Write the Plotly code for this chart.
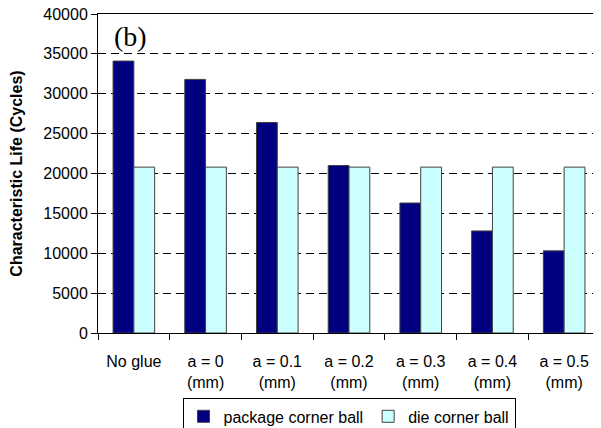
import plotly.graph_objects as go

categories = ["No glue", "a = 0<br>(mm)", "a = 0.1<br>(mm)", "a = 0.2<br>(mm)",
              "a = 0.3<br>(mm)", "a = 0.4<br>(mm)", "a = 0.5<br>(mm)"]
package_corner = [34100, 31800, 26400, 21000, 16300, 12800, 10300]
die_corner = [20800, 20800, 20800, 20800, 20800, 20800, 20800]
y_ticks = [0, 5000, 10000, 15000, 20000, 25000, 30000, 35000, 40000]

fig = go.Figure()
fig.add_trace(go.Bar(x=categories, y=package_corner, name="package corner ball",
                     marker=dict(color="#000080", line=dict(color="#404040", width=1))))
fig.add_trace(go.Bar(x=categories, y=die_corner, name="die corner ball",
                     marker=dict(color="#CCFFFF", line=dict(color="#404040", width=1))))

font = "Arial, Liberation Sans, sans-serif"
fig.update_layout(
    width=601, height=440,
    margin=dict(l=90, r=9, t=6, b=115),
    paper_bgcolor="white", plot_bgcolor="white",
    barmode="group", bargap=0.42, bargroupgap=0,
    font=dict(family=font, size=16, color="black"),
    showlegend=True,
    legend=dict(orientation="h", x=0.5, xanchor="center", y=-0.205, yanchor="top",
                bordercolor="black", borderwidth=1, font=dict(size=16),
                itemwidth=30, tracegroupgap=0),
    annotations=[dict(text="(b)", x=0.065, y=0.985, xref="paper", yref="paper",
                      xanchor="center", yanchor="top", showarrow=False,
                      font=dict(family="Liberation Serif, Times New Roman, serif", size=28))],
)
fig.update_xaxes(showline=True, linecolor="black", linewidth=1, mirror=True,
                 ticks="outside", tickson="boundaries", ticklen=6, tickcolor="black",
                 showgrid=False, ticklabelstandoff=14, automargin=False,
                 ticklabeloverflow="allow")
fig.update_yaxes(range=[0, 40000], tickvals=y_ticks, ticktext=[str(v) for v in y_ticks],
                 showline=True, linecolor="black",
                 linewidth=1, ticks="outside", ticklen=6, tickcolor="black",
                 showgrid=True, gridcolor="black", gridwidth=1, griddash="8px,5px",
                 zeroline=False, automargin=False, ticklabeloverflow="allow",
                 title=dict(text="<b>Characteristic Life (Cycles)</b>", standoff=25,
                            font=dict(size=16)))
fig.write_html("out.html")
